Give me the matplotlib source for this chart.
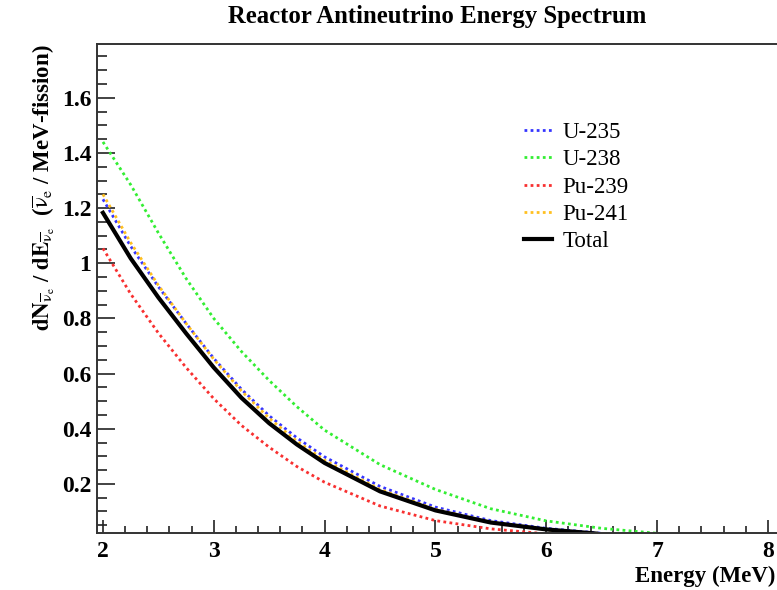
import matplotlib
matplotlib.use("Agg")
import matplotlib.pyplot as plt
from matplotlib.ticker import MultipleLocator

plt.rcParams['font.family'] = ['Liberation Serif', 'DejaVu Serif']
plt.rcParams['mathtext.fontset'] = 'stix'

# energies (MeV) and spectra
energy_u235 = [2.0, 2.25, 2.5, 2.75, 3.0, 3.25, 3.5, 3.75, 4.0, 4.5, 5.0, 5.5, 6.0, 6.5]
u235 = [1.232, 1.062, 0.915, 0.782, 0.655, 0.543, 0.447, 0.367, 0.298, 0.191, 0.116, 0.067, 0.039, 0.021]

energy_u238 = [2.0, 2.25, 2.5, 2.75, 3.0, 3.25, 3.5, 3.75, 4.0, 4.5, 5.0, 5.5, 6.0, 6.5, 7.0]
u238 = [1.44, 1.285, 1.11, 0.945, 0.80, 0.68, 0.575, 0.48, 0.395, 0.27, 0.18, 0.11, 0.066, 0.039, 0.021]

energy_pu239 = [2.0, 2.25, 2.5, 2.75, 3.0, 3.25, 3.5, 3.75, 4.0, 4.5, 5.0, 5.5, 6.0]
pu239 = [1.054, 0.889, 0.747, 0.622, 0.509, 0.412, 0.333, 0.263, 0.206, 0.12, 0.067, 0.037, 0.019]

energy_pu241 = [2.0, 2.25, 2.5, 2.75, 3.0, 3.25, 3.5, 3.75, 4.0, 4.5, 5.0, 5.5, 6.0, 6.35]
pu241 = [1.25, 1.075, 0.92, 0.782, 0.652, 0.537, 0.438, 0.355, 0.286, 0.180, 0.108, 0.061, 0.034, 0.02]

energy_total = [2.0, 2.25, 2.5, 2.75, 3.0, 3.25, 3.5, 3.75, 4.0, 4.5, 5.0, 5.5, 6.0, 6.45]
total = [1.183, 1.018, 0.876, 0.746, 0.622, 0.512, 0.42, 0.343, 0.276, 0.173, 0.104, 0.060, 0.035, 0.02]

fig = plt.figure(figsize=(7.77, 5.9), dpi=100)
ax = fig.add_axes([0.1248, 0.0966, 0.892, 0.8288])

dots = (0, (1, 1.2))
ax.plot(energy_u235, u235, color='#3535ff', lw=2, ls=dots, label='U-235')
ax.plot(energy_u238, u238, color='#33ee33', lw=2, ls=dots, label='U-238')
ax.plot(energy_pu239, pu239, color='#f83030', lw=2, ls=dots, label='Pu-239')
ax.plot(energy_pu241, pu241, color='#ffc020', lw=2, ls=dots, label='Pu-241')
ax.plot(energy_total, total, color='black', lw=3, label='Total')

ax.set_xlim(1.946, 8.2)
ax.set_ylim(0.022, 1.795)

ax.xaxis.set_major_locator(MultipleLocator(1))
ax.xaxis.set_minor_locator(MultipleLocator(0.2))
ax.yaxis.set_minor_locator(MultipleLocator(0.05))
ax.set_yticks([0.2, 0.4, 0.6, 0.8, 1.0, 1.2, 1.4, 1.6])
ax.set_yticklabels(['0.2', '0.4', '0.6', '0.8', '1', '1.2', '1.4', '1.6'])

ax.tick_params(axis='both', which='both', direction='in', colors='#222222',
               labelcolor='black', labelsize=17)
ax.tick_params(axis='y', which='major', length=13, width=1.2, pad=4)
ax.tick_params(axis='y', which='minor', length=7, width=1.2)
ax.tick_params(axis='x', which='major', length=9.5, width=1.2, pad=6)
ax.tick_params(axis='x', which='minor', length=5, width=1.2)
for lab in ax.get_xticklabels() + ax.get_yticklabels():
    lab.set_fontweight('bold')
for sp in ax.spines.values():
    sp.set_linewidth(1.4)
    sp.set_color('#333333')

fig.text(0.563, 1 - 17 / 590, 'Reactor Antineutrino Energy Spectrum',
         ha='center', va='center', fontsize=17.8, fontweight='bold')
fig.text(0.998, 1 - 576 / 590, 'Energy (MeV)', ha='right', va='center',
         fontsize=16.5, fontweight='bold')
nu = r'\overline{\mathrm{ν}}_{\mathrm{e}}'
fig.text(0.056, 1 - 44 / 590,
         r'$\mathbf{dN}_{%s}$ / $\mathbf{dE}_{%s}$  ($%s$ / MeV-fission)' % (nu, nu, nu),
         rotation=90, ha='center', va='top', fontsize=16.5, fontweight='bold')

ax.legend(loc='upper left', bbox_to_anchor=(0.674, 0.793), bbox_transform=fig.transFigure,
          frameon=False, fontsize=16.5, handlelength=1.25, handletextpad=0.45,
          labelspacing=0.27, borderpad=0, borderaxespad=0)

fig.savefig('out.png', dpi=100)
